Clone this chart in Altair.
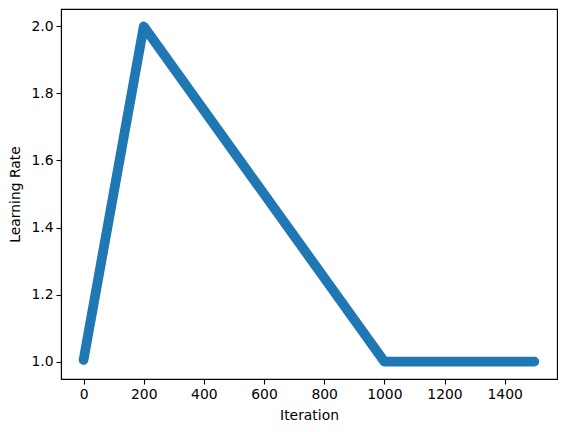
import altair as alt
import pandas as pd

# Breakpoints of the learning-rate schedule
iterations = [0, 200, 1000, 1499]
learning_rates = [1.005, 2.0, 1.0, 1.0]

x_ticks = [0, 200, 400, 600, 800, 1000, 1200, 1400]
y_ticks = [1.0, 1.2, 1.4, 1.6, 1.8, 2.0]

df = pd.DataFrame({"Iteration": iterations, "Learning Rate": learning_rates})

font = "DejaVu Sans"

chart = alt.Chart(df).mark_line(
    color="#1f77b4", strokeWidth=9.7, strokeCap="round", strokeJoin="round"
).encode(
    x=alt.X("Iteration:Q",
            scale=alt.Scale(domain=[-75, 1574], nice=False, zero=False),
            axis=alt.Axis(values=x_ticks, title="Iteration", grid=False,
                          format="d", titlePadding=8)),
    y=alt.Y("Learning Rate:Q",
            scale=alt.Scale(domain=[0.948, 2.052], nice=False, zero=False),
            axis=alt.Axis(values=y_ticks, title="Learning Rate", grid=False,
                          format=".1f", titlePadding=8)),
).properties(
    width=496, height=370,
    autosize=alt.AutoSizeParams(type="none"),
    padding={"left": 53, "top": 1, "right": 2, "bottom": 45},
).configure_view(
    stroke="black", strokeWidth=1.1
).configure_axis(
    domainColor="black", domainWidth=1.1, tickColor="black", tickWidth=1.1,
    tickSize=5, labelPadding=3, labelColor="black", titleColor="black",
    labelFont=font, titleFont=font, labelFontSize=13.9, titleFontSize=13.9,
    titleFontWeight="normal"
)

chart.save("out.html", embed_options={"renderer": "svg", "actions": False})
